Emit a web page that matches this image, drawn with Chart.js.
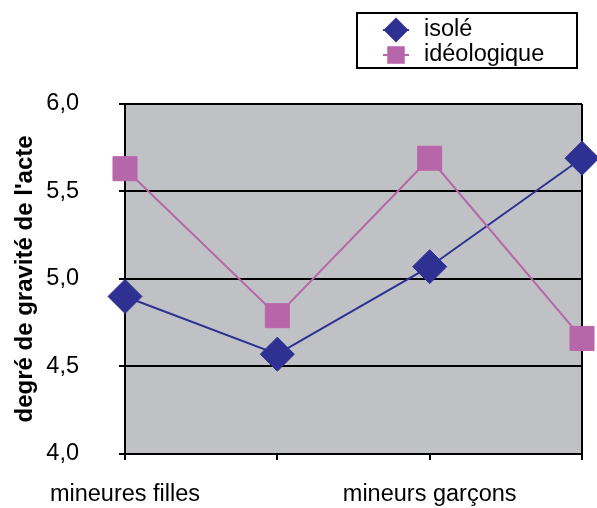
<!DOCTYPE html>
<html>
<head>
<meta charset="utf-8">
<script src="https://cdn.jsdelivr.net/npm/chart.js@4.4.1/dist/chart.umd.min.js"></script>
<style>
  html, body { margin:0; padding:0; background:#fff; }
  #wrap { position:relative; width:597px; height:508px; }
</style>
</head>
<body>
<div id="wrap"><canvas id="gravityChart"></canvas></div>
<script>
/* ── data ── */
const CATEGORIES   = ['mineures filles', '', 'mineurs garçons', ''];
const ISOLE        = [4.90, 4.57, 5.07, 5.69];
const IDEOLOGIQUE  = [5.63, 4.79, 5.69, 4.66];
const Y_TICKS      = [4.0, 4.5, 5.0, 5.5, 6.0];
const SERIES_NAMES = ['isolé', 'idéologique'];

const FONT = 'Liberation Sans, Arial, sans-serif';
const BLUE = '#2e3192';
const PINK = '#b866aa';

/* ── grey plot background ── */
const plotBg = {
  id:'plotBg',
  beforeDraw(chart) {
    const { ctx, chartArea:a } = chart;
    ctx.save();
    ctx.fillStyle = '#c0c1c5';
    ctx.fillRect(a.left, a.top, a.right - a.left, a.bottom - a.top);
    ctx.restore();
  }
};

/* ── boxed legend top right ── */
const boxLegend = {
  id:'boxLegend',
  afterDraw(chart) {
    const ctx = chart.ctx;
    ctx.save();
    ctx.fillStyle = '#fff';
    ctx.fillRect(357, 13, 220, 55);
    ctx.strokeStyle = '#000';
    ctx.lineWidth = 2;
    ctx.strokeRect(357, 13, 220, 55);
    const rows = [30, 55];
    chart.data.datasets.forEach((ds, i) => {
      const y = rows[i];
      ctx.strokeStyle = ds.borderColor;
      ctx.lineWidth = 2;
      ctx.beginPath(); ctx.moveTo(383, y); ctx.lineTo(409, y); ctx.stroke();
      ctx.fillStyle = ds.backgroundColor;
      Chart.helpers.drawPoint(ctx, { pointStyle:ds.pointStyle, radius:11, rotation:0, borderWidth:1 }, 396, y);
      ctx.fillStyle = '#000';
      ctx.font = '23.5px ' + FONT;
      ctx.textBaseline = 'middle';
      ctx.textAlign = 'left';
      ctx.fillText(ds.label, 424, y);
    });
    ctx.restore();
  }
};

function buildChart() {
  const ctx = document.getElementById('gravityChart');
  new Chart(ctx, {
    type:'line',
    data:{
      labels:CATEGORIES,
      datasets:[
        { label:SERIES_NAMES[0], data:ISOLE, borderColor:BLUE, backgroundColor:BLUE, borderWidth:2,
          pointStyle:'rectRot', pointRadius:17, pointHoverRadius:17, pointBorderWidth:1, tension:0, clip:false, order:2 },
        { label:SERIES_NAMES[1], data:IDEOLOGIQUE, borderColor:PINK, backgroundColor:PINK, borderWidth:2,
          pointStyle:'rect', pointRadius:17, pointHoverRadius:17, pointBorderWidth:1, tension:0, clip:false, order:1 },
      ]
    },
    options:{
      responsive:true, maintainAspectRatio:false, animation:false,
      layout:{ autoPadding:false, padding:{ top:104, right:15, left:0, bottom:0 } },
      plugins:{ legend:{ display:false }, tooltip:{ enabled:false } },
      scales:{
        x:{
          offset:false,
          afterFit:s => { s.height = 53; s.paddingLeft = 0; s.paddingRight = 0; },
          grid:{ drawOnChartArea:true, color:c => c.index === CATEGORIES.length - 1 ? '#000' : 'rgba(0,0,0,0)',
                 tickColor:'#000', tickLength:6, lineWidth:2 },
          border:{ color:'#000', width:2 },
          ticks:{ autoSkip:false, maxRotation:0, color:'#000', padding:21, font:{ family:FONT, size:23.5 } }
        },
        y:{
          min:Y_TICKS[0], max:Y_TICKS[Y_TICKS.length - 1],
          afterFit:s => { s.width = 125; },
          afterBuildTicks:s => { s.ticks = Y_TICKS.map(v => ({ value:v })); },
          grid:{ color:'#000', lineWidth:2, tickLength:6 },
          border:{ color:'#000', width:2 },
          ticks:{ color:'#000', padding:40, font:{ family:FONT, size:23.5 },
                  callback:v => v.toFixed(1).replace('.', ',') },
          title:{ display:true, text:"degré de gravité de l'acte", color:'#000',
                  font:{ family:FONT, size:24, weight:'bold' }, padding:{ top:11, bottom:0 } }
        }
      }
    },
    plugins:[plotBg, boxLegend]
  });
}

window.addEventListener('DOMContentLoaded', buildChart);
</script>
</body>
</html>
